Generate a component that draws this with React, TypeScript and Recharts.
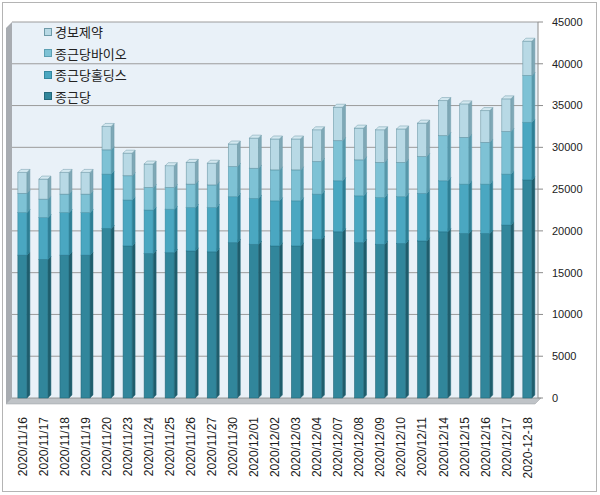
import { BarChart, Bar, XAxis, YAxis, CartesianGrid, Legend } from 'recharts';

const dates = [
    "2020/11/16", "2020/11/17", "2020/11/18", "2020/11/19", "2020/11/20",
    "2020/11/23", "2020/11/24", "2020/11/25", "2020/11/26", "2020/11/27",
    "2020/11/30", "2020/12/01", "2020/12/02", "2020/12/03", "2020/12/04",
    "2020/12/07", "2020/12/08", "2020/12/09", "2020/12/10", "2020/12/11",
    "2020/12/14", "2020/12/15", "2020/12/16", "2020/12/17", "2020-12-18",
];

const jongkundang = [17100, 16600, 17100, 17100, 20300, 18200, 17300, 17400, 17600, 17500, 18600, 18400, 18200, 18200, 19000, 19900, 18600, 18400, 18500, 18800, 19900, 19700, 19700, 20700, 26100];
const holdings = [5100, 5000, 5100, 5100, 6500, 5500, 5200, 5200, 5200, 5300, 5500, 5500, 5400, 5400, 5400, 6100, 5600, 5600, 5600, 5700, 6100, 5900, 5900, 6100, 6900];
const bio = [2300, 2200, 2200, 2200, 2900, 2900, 2700, 2600, 2800, 2700, 3600, 3600, 3700, 3700, 3900, 4800, 4300, 4200, 4100, 4400, 5400, 5600, 5000, 5100, 5600];
const kyungbo = [2500, 2400, 2600, 2600, 2800, 2700, 2800, 2600, 2600, 2600, 2700, 3600, 3700, 3700, 3800, 4000, 3800, 3900, 4000, 4000, 4200, 4000, 3800, 3900, 4100];

const yTicks = [0, 5000, 10000, 15000, 20000, 25000, 30000, 35000, 40000, 45000];

const series = [
    { key: "jkd", name: "종근당", front: "#31869B", side: "#1F5D6C", top: "#4A9DB1", edge: "#24687A" },
    { key: "hold", name: "종근당홀딩스", front: "#4AA7C1", side: "#2E7E94", top: "#6BBBD1", edge: "#34889F" },
    { key: "bio", name: "종근당바이오", front: "#7EC2D5", side: "#5798AA", top: "#9CD2E1", edge: "#5C9FB2" },
    { key: "kb", name: "경보제약", front: "#B8D9E5", side: "#7FA8B6", top: "#D3E8F0", edge: "#6E9AA8" },
];

const data = dates.map((d, i) => ({
    date: d,
    jkd: jongkundang[i],
    hold: holdings[i],
    bio: bio[i],
    kb: kyungbo[i],
}));

const DEPTH = 3;

const Bar3D = (props: any) => {
    const { x, y, width, height, colors } = props;
    if (!height || height <= 0) return null;
    const d = DEPTH;
    const side = `M${x + width},${y} L${x + width + d},${y - d} L${x + width + d},${y + height - d} L${x + width},${y + height} Z`;
    const top = `M${x},${y} L${x + d},${y - d} L${x + width + d},${y - d} L${x + width},${y} Z`;
    return (
        <g>
            <path d={side} fill={colors.side} stroke={colors.edge} strokeWidth={0.5} />
            <rect x={x} y={y} width={width} height={height} fill={colors.front} stroke={colors.edge} strokeWidth={0.6} />
            <path d={top} fill={colors.top} stroke={colors.edge} strokeWidth={0.5} />
        </g>
    );
};

const DateTick = (props: any) => {
    const { x, y, payload } = props;
    return (
        <text
            transform={`translate(${x},${y}) rotate(-90)`}
            textAnchor="end"
            dy="0.35em"
            fontFamily="'Liberation Sans', Arial, sans-serif"
            fontSize={12}
            fill="#1a1a1a"
        >
            {payload.value}
        </text>
    );
};

const LegendBox = () => (
    <div style={{ fontFamily: "'Noto Sans CJK KR', sans-serif", fontSize: 13, color: '#222' }}>
        {[...series].reverse().map((s) => (
            <div key={s.key} style={{ display: 'flex', alignItems: 'center', height: 21.5 }}>
                <span style={{ display: 'inline-block', width: 6, height: 6, background: s.front, border: `1px solid ${s.edge}`, marginRight: 3 }} />
                <span>{s.name}</span>
            </div>
        ))}
    </div>
);

const App = () => {
    return (
        <div style={{ position: 'absolute', left: 0, top: 0, width: 600, height: 495, background: '#fff' }}>
            {/* frame, side wall and floor */}
            <svg width={600} height={495} style={{ position: 'absolute', left: 0, top: 0 }}>
                <rect x={2.5} y={2.5} width={594} height={489} fill="#fff" stroke="#B4B4B4" />
                <polygon points="6,28 12,22 12,398 6,404" fill="#A8ACB1" />
                <polygon points="6,404 12,398 541,398 535,404" fill="#BFC3C7" stroke="#9A9EA2" strokeWidth={0.5} />
            </svg>
            <div style={{ position: 'absolute', left: 0, top: 0 }}>
                <BarChart
                    width={600}
                    height={495}
                    data={data}
                    margin={{ top: 22, right: 0, left: 12, bottom: 0 }}
                    barCategoryGap="28%"
                >
                    <CartesianGrid vertical={false} stroke="#9C9C9C" fill="#E9F1F8" />
                    <XAxis
                        dataKey="date"
                        height={97}
                        axisLine={false}
                        tickLine={false}
                        tickMargin={13}
                        interval={0}
                        tick={<DateTick />}
                    />
                    <YAxis
                        orientation="right"
                        width={62}
                        domain={[0, 45000]}
                        ticks={yTicks}
                        interval={0}
                        axisLine={{ stroke: '#8C8C8C' }}
                        tickLine={{ stroke: '#8C8C8C' }}
                        tickSize={5}
                        tickMargin={9}
                        tick={{ fill: '#222', fontSize: 11, fontFamily: "'Liberation Sans', Arial, sans-serif" }}
                    />
                    <Legend
                        layout="vertical"
                        align="center"
                        verticalAlign="middle"
                        content={<LegendBox />}
                        wrapperStyle={{ position: 'absolute', left: 44, top: 21, width: 'auto' }}
                    />
                    {series.map((s) => (
                        <Bar
                            key={s.key}
                            dataKey={s.key}
                            name={s.name}
                            stackId="a"
                            fill={s.front}
                            isAnimationActive={false}
                            shape={(p: any) => <Bar3D {...p} colors={s} />}
                        />
                    ))}
                </BarChart>
            </div>
        </div>
    );
};

export default App;
